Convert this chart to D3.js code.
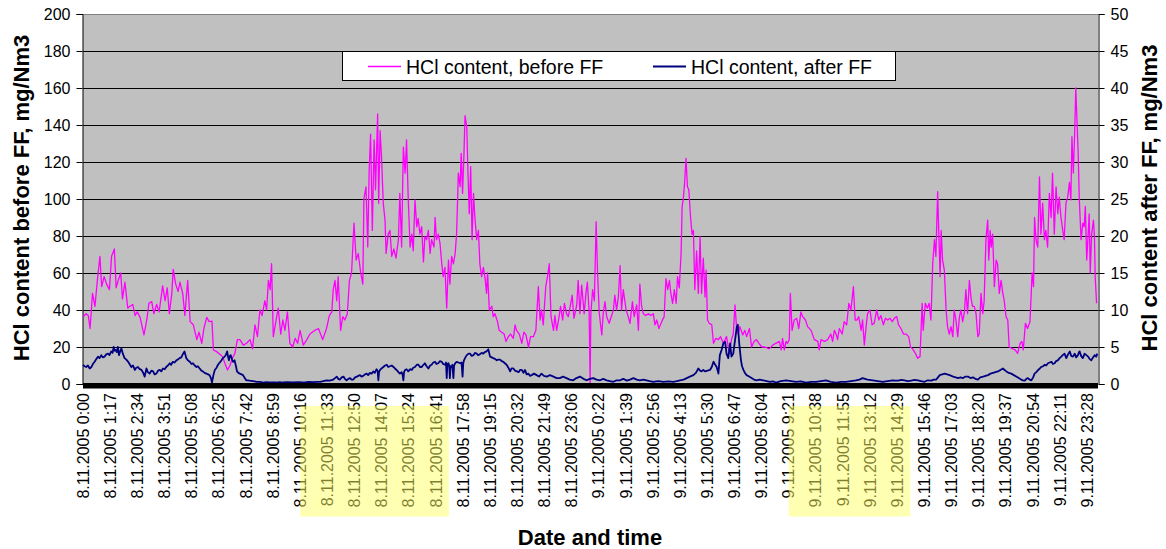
<!DOCTYPE html>
<html>
<head>
<meta charset="utf-8">
<script src="https://cdn.jsdelivr.net/npm/d3@7/dist/d3.min.js"></script>
<style>
  html, body { margin: 0; padding: 0; background: #fff; }
  svg text { font-family: Arial, "Liberation Sans", sans-serif; }
</style>
</head>
<body>
<svg id="chart" width="1166" height="549"></svg>
<script>
// === Données (minutes depuis 8.11.2005 0:00, valeur) ===
const tickLabels = [
  "8.11.2005 0:00", "8.11.2005 1:17", "8.11.2005 2:34", "8.11.2005 3:51", "8.11.2005 5:08",
  "8.11.2005 6:25", "8.11.2005 7:42", "8.11.2005 8:59", "8.11.2005 10:16", "8.11.2005 11:33",
  "8.11.2005 12:50", "8.11.2005 14:07", "8.11.2005 15:24", "8.11.2005 16:41", "8.11.2005 17:58",
  "8.11.2005 19:15", "8.11.2005 20:32", "8.11.2005 21:49", "8.11.2005 23:06", "9.11.2005 0:22",
  "9.11.2005 1:39", "9.11.2005 2:56", "9.11.2005 4:13", "9.11.2005 5:30", "9.11.2005 6:47",
  "9.11.2005 8:04", "9.11.2005 9:21", "9.11.2005 10:38", "9.11.2005 11:55", "9.11.2005 13:12",
  "9.11.2005 14:29", "9.11.2005 15:46", "9.11.2005 17:03", "9.11.2005 18:20", "9.11.2005 19:37",
  "9.11.2005 20:54", "9.11.2005 22:11", "9.11.2005 23:28"
];
const tickStep = 77; // une étiquette toutes les 77 mesures
const totalMinutes = 2880;

const leftTicks = [0, 20, 40, 60, 80, 100, 120, 140, 160, 180, 200];
const rightTicks = [0, 5, 10, 15, 20, 25, 30, 35, 40, 45, 50];

// étiquettes surlignées (index de début / fin)
const highlights = [[8, 13], [26, 30]];

// HCl avant FF (axe gauche)
const hclBefore = [
  [0,36.4],[9,38],[15,37],[20,30],[27,49],[34,42],[41,56.6],[48,69],[53,52.6],[60,58],[67,54],[75,51],
  [81,69],[89,73],[94,52],[100,56],[107,60],[112,46],[119,55],[127,41],[133,42],[141,43],[148,37],[154,39],
  [162,36],[173,26.5],[181,34.6],[187,43.6],[195,44.5],[201,38],[209,43],[216,39],[226,53],[233,45],[239,52],
  [245,38],[252,49],[256,62],[263,54],[270,50],[275,55],[283,49],[289,37],[297,56],[304,33.7],[313,32],
  [323,24],[329,28],[337,22],[343,30],[351,36],[358,33.7],[366,34],[370,18.4],[379,17.5],[389,16],[396,14.8],
  [403,11],[410,7.6],[417,10],[424,14],[431,16.6],[438,24],[445,24],[455,21],[464,22],[474,24],[481,19],
  [488,32],[495,25.6],[502,40],[508,37],[516,45],[521,40],[526,56],[531,51],[535,65],[540,25.6],[548,34.6],
  [554,41],[561,27],[567,34.6],[573,29],[580,39],[587,22],[595,20],[602,24.7],[609,22],[616,29],[625,21],
  [635,24],[644,27],[658,29],[668,30],[680,24],[691,30],[699,37],[706,39],[710,51],[715,56],[720,45],
  [724,58],[731,29],[737,36.4],[743,34.6],[750,38],[756,56],[762,60],[769,87],[775,67],[781,70.6],[788,60],
  [794,54],[797,100],[803,106.6],[808,74],[812,115.7],[816,135],[821,83],[826,132],[830,105],[836,146],
  [839,97.7],[843,137],[847,123],[852,97.7],[857,88.6],[860,70.6],[866,81],[871,83],[876,69],[882,73],
  [888,68],[895,78],[899,103],[904,74],[909,128],[914,114],[918,132],[923,99.5],[928,74],[933,81],[937,72],
  [942,99.5],[947,85],[951,89.5],[956,81],[961,85],[966,66],[970,79.6],[975,78],[980,83],[985,70.6],[989,78],
  [996,74],[999,90],[1003,78],[1008,81],[1013,76],[1018,65],[1022,58],[1027,63],[1032,41],[1037,67],[1041,54],
  [1046,69],[1051,65],[1056,70.6],[1060,81],[1065,114],[1070,106.6],[1073,124.7],[1077,103],[1081,124.7],
  [1084,145],[1089,139],[1091,123],[1096,92],[1100,117.5],[1104,78],[1108,103],[1112,90],[1117,78],[1122,83],
  [1126,65],[1131,58],[1136,63],[1141,57],[1145,49],[1148,60],[1153,40],[1160,42],[1164,36.4],[1169,38],
  [1176,33.7],[1181,29],[1188,28],[1195,27],[1200,23],[1207,25.6],[1213,27],[1221,24.7],[1226,32],[1230,29],
  [1238,27],[1245,22],[1251,28],[1257,26.5],[1264,20],[1270,25.6],[1278,25.6],[1285,29],[1292,52.6],
  [1297,34.6],[1301,40],[1306,32],[1313,52.6],[1318,58],[1323,65],[1328,36.4],[1335,29],[1339,37],[1344,29],
  [1351,36.4],[1355,42],[1361,34.6],[1366,43.6],[1372,38],[1377,36.4],[1384,43.6],[1388,48],[1393,35.5],
  [1401,42.7],[1405,56],[1410,38],[1415,53.5],[1422,38],[1427,49],[1431,55],[1436,40],[1439,0.4],[1441,38],
  [1446,51],[1451,45],[1456,87.7],[1460,60],[1465,38],[1472,26.5],[1476,38],[1481,44.5],[1486,36.4],
  [1493,32.8],[1500,37],[1505,40],[1509,48],[1514,40],[1519,47],[1524,64],[1528,40],[1533,51],[1541,40],
  [1547,36.4],[1552,32.8],[1559,44.5],[1564,36.4],[1571,42.7],[1576,29],[1580,54],[1585,42],[1590,38],
  [1597,37],[1604,38],[1611,37],[1618,38],[1623,32],[1628,34.6],[1634,30],[1642,33.7],[1649,36.4],[1654,57],
  [1659,51],[1664,56],[1668,49],[1673,43.6],[1678,51],[1683,43.6],[1687,58],[1692,52],[1697,70.6],[1700,96],
  [1703,99.5],[1707,108.5],[1711,122],[1715,106.6],[1719,105],[1724,90],[1728,81],[1732,83],[1736,51],
  [1741,72],[1746,49],[1751,79.6],[1755,49],[1760,68],[1765,47],[1768,61.6],[1772,34.6],[1777,32.8],[1784,32],
  [1789,22],[1796,24.7],[1803,24],[1809,25.6],[1817,22],[1826,25.6],[1834,16.6],[1840,24],[1845,27],
  [1850,42.7],[1855,29],[1859,27],[1864,31],[1872,26.5],[1878,29],[1883,25.6],[1891,30],[1897,20],[1904,23],
  [1911,24],[1918,22],[1926,20],[1935,20],[1947,19],[1957,21],[1966,22],[1976,23],[1981,18.4],[1985,24.7],
  [1990,18.4],[1995,23],[1999,22],[2004,24],[2007,49],[2012,29],[2018,34.6],[2025,35.5],[2031,30],[2037,39],
  [2042,36.4],[2050,34.6],[2056,31],[2066,29],[2075,24],[2085,23],[2089,18.4],[2094,24],[2104,23],[2113,24],
  [2122,27],[2127,23],[2132,29],[2137,27],[2141,24],[2146,30],[2154,27],[2160,33.7],[2167,32],[2173,43.6],
  [2179,40],[2186,52.6],[2191,34.6],[2196,34.6],[2201,36.4],[2208,29],[2212,34.6],[2217,21],[2222,31],
  [2226,38],[2233,40],[2239,32],[2245,32.8],[2252,40],[2258,34.6],[2264,37],[2271,32],[2277,35.5],
  [2283,34.6],[2290,35.5],[2296,33.7],[2302,35.5],[2309,36.4],[2314,32],[2321,30],[2328,27],[2335,27],
  [2343,25.6],[2348,20],[2354,19],[2362,16.6],[2368,13.9],[2375,14.8],[2381,43.6],[2384,29],[2390,43.6],
  [2396,41],[2401,43.6],[2406,34.6],[2411,65],[2416,78],[2420,69],[2425,104],[2428,83],[2432,58],[2435,83],
  [2439,67],[2444,61.6],[2449,40],[2453,31],[2458,27],[2463,31],[2468,25.6],[2472,40],[2477,34.6],
  [2482,25.6],[2487,36.4],[2491,40],[2496,33.7],[2501,39],[2505,51],[2510,38],[2515,56],[2520,46],[2524,42],
  [2529,42],[2534,38],[2539,25.6],[2543,27],[2548,49],[2553,38],[2557,45],[2562,78],[2567,88.6],[2570,67],
  [2574,83],[2577,74],[2581,81],[2586,52.6],[2591,67],[2595,65],[2600,49],[2605,56],[2610,49],[2614,45],
  [2619,36.4],[2624,34.6],[2628,20],[2638,19],[2645,18.4],[2652,16.6],[2659,22],[2664,23],[2668,18.4],
  [2674,32.8],[2680,30],[2687,33.7],[2693,60],[2697,52.6],[2700,90],[2704,78],[2709,74],[2714,112],[2718,81],
  [2723,97.7],[2728,78],[2732,83],[2737,74],[2742,103],[2747,90],[2751,114],[2756,81],[2761,106.6],[2766,92],
  [2770,101],[2775,90],[2780,83],[2784,78],[2789,97.7],[2794,101],[2799,109],[2803,99.5],[2806,133.7],
  [2810,114],[2814,137],[2817,160],[2820,144.5],[2824,123],[2827,99.5],[2832,78],[2837,87],[2841,85],
  [2844,96],[2848,67],[2852,81],[2855,92],[2858,60],[2862,81],[2867,88.6],[2870,79.6],[2872,58],[2876,43.6]
];

// HCl après FF (axe droit)
const hclAfter = [
  [0,2.6],[4,2.4],[9,2.3],[14,2.5],[19,2.1],[24,2.3],[28,2.7],[33,3.0],[38,3.4],[43,3.7],[47,3.5],[52,3.9],
  [56,3.6],[61,3.7],[66,4.0],[71,4.1],[75,3.9],[80,4.4],[84,4.2],[87,5.0],[90,4.5],[93,4.6],[96,4.3],[99,5.0],
  [102,3.9],[106,4.5],[109,4.8],[113,4.1],[118,3.5],[123,3.3],[128,3.0],[132,2.7],[137,2.3],[142,2.5],
  [147,1.9],[151,2.2],[156,2.3],[161,2.0],[166,1.9],[170,1.6],[175,1.0],[180,2.1],[184,1.6],[189,1.4],
  [194,1.8],[199,1.7],[203,1.3],[208,1.4],[213,1.8],[218,1.9],[222,1.7],[227,2.1],[232,2.0],[236,2.3],
  [241,2.5],[246,2.8],[250,2.6],[255,3.0],[260,2.9],[265,3.2],[269,3.3],[274,3.5],[279,3.6],[284,4.1],
  [288,4.4],[293,3.5],[298,3.2],[303,3.0],[308,2.7],[312,2.8],[317,2.5],[322,2.3],[326,2.4],[331,2.1],
  [336,1.8],[340,1.7],[345,1.5],[350,1.4],[355,1.3],[359,1.2],[363,0.8],[366,0.2],[370,1.2],[374,1.9],
  [379,2.2],[383,2.6],[388,2.9],[393,3.2],[397,3.5],[402,3.7],[406,4.0],[409,4.4],[412,3.6],[414,3.2],
  [417,3.8],[419,3.9],[423,3.3],[426,3.0],[430,3.2],[434,2.4],[437,1.7],[441,1.5],[445,1.4],[450,1.3],
  [454,1.2],[459,0.8],[463,0.5],[468,0.5],[473,0.45],[482,0.4],[492,0.3],[502,0.3],[511,0.2],[520,0.25],
  [530,0.2],[540,0.22],[549,0.2],[558,0.25],[567,0.2],[580,0.25],[595,0.2],[610,0.25],[625,0.2],[640,0.3],
  [655,0.25],[663,0.3],[673,0.3],[682,0.4],[691,0.5],[700,0.45],[710,0.6],[715,0.8],[720,1.0],[724,0.7],
  [729,0.6],[734,0.9],[739,1.0],[743,0.7],[748,0.5],[753,0.7],[758,0.8],[762,0.6],[767,0.6],[772,0.9],
  [777,1.0],[781,1.1],[786,1.2],[790,1.0],[795,1.1],[800,1.3],[805,1.4],[809,1.2],[814,1.5],[819,1.4],
  [824,1.7],[828,1.5],[833,2.0],[836,1.8],[838,0.5],[840,1.6],[843,1.9],[847,2.1],[852,2.3],[857,2.5],
  [862,2.6],[866,2.3],[871,2.4],[876,2.5],[881,2.3],[885,2.1],[890,1.9],[895,1.6],[899,1.4],[904,1.6],
  [907,1.2],[909,0.5],[911,1.6],[914,1.9],[918,2.0],[923,1.7],[928,2.0],[933,1.9],[937,2.2],[942,2.3],
  [947,2.6],[952,2.6],[956,2.3],[961,2.3],[966,2.6],[970,2.8],[975,2.4],[980,2.1],[985,2.5],[989,2.6],
  [994,2.9],[999,3.0],[1003,2.7],[1008,2.8],[1013,3.1],[1018,3.0],[1022,2.7],[1027,2.6],[1030,2.9],
  [1032,0.8],[1034,2.7],[1037,2.8],[1039,2.5],[1041,0.8],[1043,2.4],[1046,2.3],[1048,2.6],[1051,0.8],
  [1053,2.5],[1056,2.8],[1060,3.0],[1065,2.9],[1070,2.8],[1074,2.9],[1077,1.0],[1079,2.8],[1081,3.2],
  [1085,3.6],[1089,3.9],[1094,4.1],[1098,4.1],[1103,3.8],[1108,3.9],[1112,4.2],[1117,4.1],[1121,3.9],
  [1126,4.0],[1131,4.2],[1136,4.1],[1140,4.3],[1145,4.4],[1150,4.7],[1153,4.1],[1155,3.7],[1160,3.6],
  [1164,3.5],[1169,3.4],[1174,3.2],[1178,3.3],[1183,3.3],[1188,3.1],[1193,3.0],[1197,2.8],[1202,2.6],
  [1207,2.2],[1212,1.7],[1216,2.1],[1221,2.1],[1226,1.8],[1231,1.7],[1236,1.6],[1240,1.9],[1245,1.9],
  [1250,1.5],[1254,1.9],[1259,1.3],[1264,1.4],[1268,1.1],[1273,1.2],[1280,1.4],[1287,1.2],[1294,1.0],
  [1301,1.4],[1308,1.1],[1316,1.0],[1325,1.2],[1335,1.0],[1344,0.8],[1353,0.8],[1362,1.0],[1372,0.8],
  [1381,0.6],[1391,0.5],[1400,0.8],[1410,1.0],[1420,0.7],[1429,0.5],[1438,0.7],[1448,0.8],[1457,0.6],
  [1467,0.5],[1476,0.7],[1486,0.5],[1495,0.4],[1505,0.3],[1514,0.5],[1524,0.5],[1533,0.7],[1543,0.45],
  [1552,0.6],[1562,0.8],[1571,0.6],[1580,0.5],[1590,0.6],[1599,0.5],[1608,0.4],[1618,0.3],[1632,0.4],
  [1647,0.3],[1661,0.35],[1675,0.3],[1685,0.4],[1694,0.5],[1704,0.6],[1713,0.8],[1722,1.0],[1732,1.2],
  [1739,1.5],[1746,2.1],[1751,1.8],[1755,1.7],[1760,1.9],[1765,1.7],[1772,1.8],[1779,1.9],[1784,2.3],
  [1789,3.0],[1794,2.6],[1798,2.3],[1803,1.4],[1807,3.9],[1812,4.6],[1817,5.5],[1822,5.7],[1826,4.1],
  [1831,3.5],[1836,5.5],[1840,3.7],[1845,4.1],[1850,5.9],[1855,7.7],[1858,8.0],[1862,5.5],[1867,3.2],
  [1870,2.4],[1874,1.9],[1878,1.5],[1883,1.2],[1890,1.0],[1897,0.8],[1904,0.6],[1911,0.5],[1920,0.6],
  [1930,0.5],[1940,0.4],[1949,0.3],[1958,0.35],[1966,0.2],[1980,0.4],[1995,0.5],[2009,0.4],[2023,0.3],
  [2037,0.35],[2051,0.2],[2066,0.3],[2080,0.3],[2094,0.4],[2108,0.5],[2122,0.3],[2137,0.2],[2151,0.3],
  [2165,0.3],[2179,0.4],[2193,0.5],[2203,0.6],[2212,0.8],[2226,0.6],[2241,0.5],[2255,0.4],[2269,0.3],
  [2283,0.4],[2297,0.5],[2305,0.45],[2313,0.45],[2322,0.55],[2331,0.5],[2340,0.4],[2350,0.45],[2359,0.55],
  [2369,0.5],[2378,0.4],[2388,0.3],[2397,0.5],[2407,0.45],[2414,0.6],[2421,0.6],[2426,0.9],[2431,1.2],
  [2438,1.3],[2445,1.4],[2452,1.3],[2459,1.2],[2464,1.1],[2469,1.0],[2476,0.9],[2483,0.8],[2490,0.9],
  [2497,0.8],[2504,1.0],[2511,1.0],[2518,0.8],[2525,0.9],[2532,0.7],[2539,0.6],[2546,0.9],[2554,1.0],
  [2561,1.1],[2568,1.2],[2575,1.4],[2582,1.5],[2589,1.6],[2596,1.7],[2603,1.9],[2610,2.1],[2615,1.9],
  [2620,1.7],[2627,1.5],[2634,1.4],[2641,1.2],[2648,1.0],[2655,0.8],[2662,0.6],[2667,0.5],[2672,0.45],
  [2677,0.7],[2681,0.8],[2686,0.6],[2691,0.5],[2696,0.9],[2700,1.4],[2705,1.6],[2710,1.9],[2715,2.1],
  [2719,2.3],[2724,2.4],[2729,2.6],[2733,2.5],[2738,2.8],[2743,2.9],[2748,3.0],[2752,2.7],[2757,2.8],
  [2761,3.1],[2766,3.2],[2771,3.5],[2776,3.7],[2780,3.9],[2785,4.1],[2790,3.5],[2795,4.0],[2800,4.4],
  [2804,3.8],[2809,3.7],[2814,4.1],[2818,3.6],[2823,3.9],[2826,4.3],[2828,4.4],[2832,3.8],[2837,3.5],
  [2842,4.1],[2847,3.9],[2852,3.7],[2856,3.4],[2861,3.2],[2866,3.6],[2871,3.9],[2875,3.7],[2878,4.1]
];

// === Mise en page ===
const svg = d3.select('#chart');
const plot = { left: 83, right: 1098, top: 14, bottom: 384 };

const x = d3.scaleLinear().domain([0, totalMinutes]).range([plot.left, plot.right]);
const yLeft = d3.scaleLinear().domain([0, 200]).range([plot.bottom, plot.top]);
const yRight = d3.scaleLinear().domain([0, 50]).range([plot.bottom, plot.top]);

// fond gris de la zone de tracé
svg.append('rect')
  .attr('x', plot.left).attr('y', plot.top)
  .attr('width', plot.right - plot.left).attr('height', plot.bottom - plot.top)
  .attr('fill', '#c0c0c0');

// quadrillage horizontal
svg.append('g')
  .selectAll('line')
  .data(leftTicks.filter(d => d > 0))
  .enter().append('line')
  .attr('x1', plot.left).attr('x2', plot.right)
  .attr('y1', d => Math.round(yLeft(d)) + 0.5).attr('y2', d => Math.round(yLeft(d)) + 0.5)
  .attr('stroke', d => d === 200 ? '#808080' : '#000')
  .attr('stroke-width', 1);

// axes verticaux
const axisLeft = d3.axisLeft(yLeft).tickValues(leftTicks).tickSize(6).tickPadding(6);
const axisRight = d3.axisRight(yRight).tickValues(rightTicks).tickSize(6).tickPadding(6);

const gL = svg.append('g').attr('transform', `translate(${plot.left - 0.5},0)`).call(axisLeft);
const gR = svg.append('g').attr('transform', `translate(${plot.right + 0.5},0)`).call(axisRight);
[gL, gR].forEach(g => {
  g.select('.domain').attr('stroke', '#000');
  g.selectAll('.tick line').attr('stroke', '#000');
  g.selectAll('.tick text')
    .attr('fill', '#000')
    .style('font-size', '16px')
    .style('font-family', 'Arial, "Liberation Sans", sans-serif');
});

// === Courbes ===
const lineBefore = d3.line().x(d => x(d[0])).y(d => yLeft(d[1]));
const lineAfter = d3.line().x(d => x(d[0])).y(d => yRight(d[1]));

svg.append('path')
  .datum(hclBefore)
  .attr('d', lineBefore)
  .attr('fill', 'none')
  .attr('stroke', '#ff00ff')
  .attr('stroke-width', 1.3)
  .attr('stroke-linejoin', 'round');

svg.append('path')
  .datum(hclAfter)
  .attr('d', lineAfter)
  .attr('fill', 'none')
  .attr('stroke', '#000080')
  .attr('stroke-width', 1.8)
  .attr('stroke-linejoin', 'round');

// axe des abscisses épais
svg.append('rect')
  .attr('x', plot.left).attr('y', plot.bottom - 1)
  .attr('width', plot.right - plot.left).attr('height', 5.5)
  .attr('fill', '#000');

// === Étiquettes de l'axe X ===
svg.append('g')
  .selectAll('text')
  .data(tickLabels)
  .enter().append('text')
  .attr('transform', (d, i) => `translate(${x(i * tickStep + 0.5)},393) rotate(-90)`)
  .attr('text-anchor', 'end')
  .attr('dy', '0.35em')
  .style('font-size', '16px')
  .attr('fill', '#000')
  .text(d => d);

// surlignage jaune par-dessus certaines étiquettes
svg.append('g')
  .selectAll('rect')
  .data(highlights)
  .enter().append('rect')
  .attr('x', d => x(d[0] * tickStep + 0.5))
  .attr('y', 406)
  .attr('width', d => x(d[1] * tickStep + 0.5) - x(d[0] * tickStep + 0.5) + 13)
  .attr('height', 110.5)
  .attr('fill', '#ffff66')
  .attr('opacity', 0.5);

// === Titres ===
svg.append('text')
  .attr('x', 590).attr('y', 545)
  .attr('text-anchor', 'middle')
  .style('font-size', '22px').style('font-weight', 'bold')
  .text('Date and time');

svg.append('text')
  .attr('transform', 'translate(21,198) rotate(-90)')
  .attr('text-anchor', 'middle').attr('dy', '0.35em')
  .style('font-size', '22px').style('font-weight', 'bold')
  .text('HCl content before FF, mg/Nm3');

svg.append('text')
  .attr('transform', 'translate(1149,198) rotate(-90)')
  .attr('text-anchor', 'middle').attr('dy', '0.35em')
  .style('font-size', '22px').style('font-weight', 'bold')
  .text('HCl content after FF, mg/Nm3');

// === Légende ===
const legend = svg.append('g');
legend.append('rect')
  .attr('x', 342.5).attr('y', 51.5).attr('width', 553).attr('height', 29)
  .attr('fill', '#fff').attr('stroke', '#000').attr('stroke-width', 1);

const legendItems = [
  { label: 'HCl content, before FF', color: '#ff00ff', x: 368, width: 1.3 },
  { label: 'HCl content, after FF', color: '#000080', x: 653, width: 1.8 }
];
legendItems.forEach(it => {
  legend.append('line')
    .attr('x1', it.x).attr('x2', it.x + 33)
    .attr('y1', 66.5).attr('y2', 66.5)
    .attr('stroke', it.color).attr('stroke-width', it.width);
  legend.append('text')
    .attr('x', it.x + 38).attr('y', 74)
    .style('font-size', '19.5px')
    .text(it.label);
});
</script>
</body>
</html>
